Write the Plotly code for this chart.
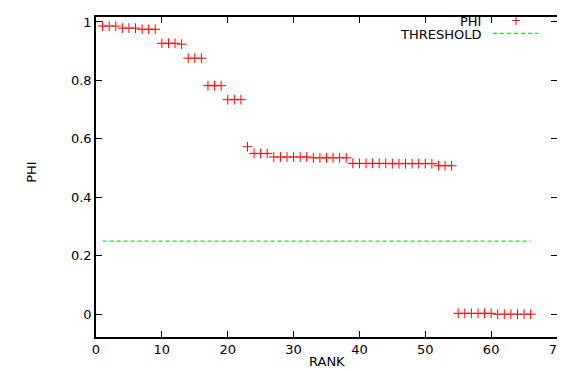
import plotly.graph_objects as go

rank = list(range(1, 67))
phi = [0.986, 0.986, 0.986, 0.979, 0.979, 0.979, 0.975, 0.975, 0.975,
       0.927, 0.927, 0.927, 0.924,
       0.876, 0.876, 0.876,
       0.782, 0.782, 0.782,
       0.734, 0.734, 0.734,
       0.573,
       0.550, 0.550, 0.550,
       0.538, 0.538, 0.538, 0.538, 0.538, 0.538,
       0.535, 0.535, 0.535, 0.535, 0.535, 0.535,
       0.516, 0.516, 0.516, 0.516, 0.516, 0.516,
       0.515, 0.515, 0.515, 0.515, 0.515, 0.515, 0.515,
       0.508, 0.508, 0.508,
       0.003, 0.003, 0.003, 0.003, 0.003, 0.003,
       0.0, 0.0, 0.0, 0.0, 0.0, 0.0]
threshold_x = [1, 66]
threshold_y = [0.25, 0.25]

x_ticks = [0, 10, 20, 30, 40, 50, 60, 70]
y_ticks = [0, 0.2, 0.4, 0.6, 0.8, 1]
y_tick_labels = ["0", "0.2", "0.4", "0.6", "0.8", "1"]

RED = "#ff0000"
GREEN = "#22dd22"
FONT = "DejaVu Sans"
FS = 13

fig = go.Figure()
fig.add_trace(go.Scatter(
    x=rank, y=phi, mode="markers", name="PHI",
    marker=dict(symbol="cross-thin", size=7, line=dict(color=RED, width=1), color=RED),
    showlegend=False,
))
fig.add_trace(go.Scatter(
    x=threshold_x, y=threshold_y, mode="lines", name="THRESHOLD",
    line=dict(color=GREEN, width=1.2, dash="4px,3px"),
    showlegend=False,
))

axis_common = dict(
    showgrid=False, zeroline=False, showline=True, linecolor="black", linewidth=1.5,
    mirror="ticks", ticks="inside", ticklen=6, tickcolor="black", tickwidth=1,
    tickfont=dict(family=FONT, size=FS, color="black"), automargin=False,
    ticklabeloverflow="allow",
)
fig.update_xaxes(range=[0, 70], tickvals=x_ticks, ticktext=[str(v) for v in x_ticks],
                 **axis_common)
fig.update_yaxes(range=[-0.078, 1.017], tickvals=y_ticks, ticktext=y_tick_labels,
                 **axis_common)

# axis titles
fig.add_annotation(xref="paper", yref="paper", x=0.501, y=-0.075, text="RANK",
                   showarrow=False, xanchor="center", yanchor="middle",
                   font=dict(family=FONT, size=FS, color="black"))
fig.add_annotation(xref="paper", yref="paper", x=-0.139, y=0.516, text="PHI",
                   showarrow=False, xanchor="center", yanchor="middle", textangle=-90,
                   font=dict(family=FONT, size=FS, color="black"))

# custom gnuplot-style key (text right-aligned, sample on the right)
fig.add_annotation(xref="paper", yref="paper", x=0.837, y=0.989, text="PHI",
                   showarrow=False, xanchor="right", yanchor="middle", height=12, borderpad=0,
                   font=dict(family=FONT, size=FS, color="black"))
fig.add_annotation(xref="paper", yref="paper", x=0.837, y=0.947, text="THRESHOLD",
                   showarrow=False, xanchor="right", yanchor="middle", height=12, borderpad=0,
                   font=dict(family=FONT, size=FS, color="black"))
fig.add_annotation(xref="paper", yref="paper", x=0.910, y=0.9875, text="+",
                   showarrow=False, xanchor="center", yanchor="middle", height=12, borderpad=0,
                   font=dict(family=FONT, size=12, color=RED))
fig.add_shape(type="line", xref="paper", yref="paper", x0=0.861, x1=0.959, y0=0.949, y1=0.949,
              line=dict(color=GREEN, width=1.2, dash="4px,3px"))

# page body has an 8px default margin, so the figure is sized/offset to compensate
fig.update_layout(
    width=557, height=363,
    margin=dict(l=88, r=8, t=9, b=34),
    paper_bgcolor="white", plot_bgcolor="white",
    font=dict(family=FONT, size=FS, color="black"),
)

fig.write_html("out.html")
